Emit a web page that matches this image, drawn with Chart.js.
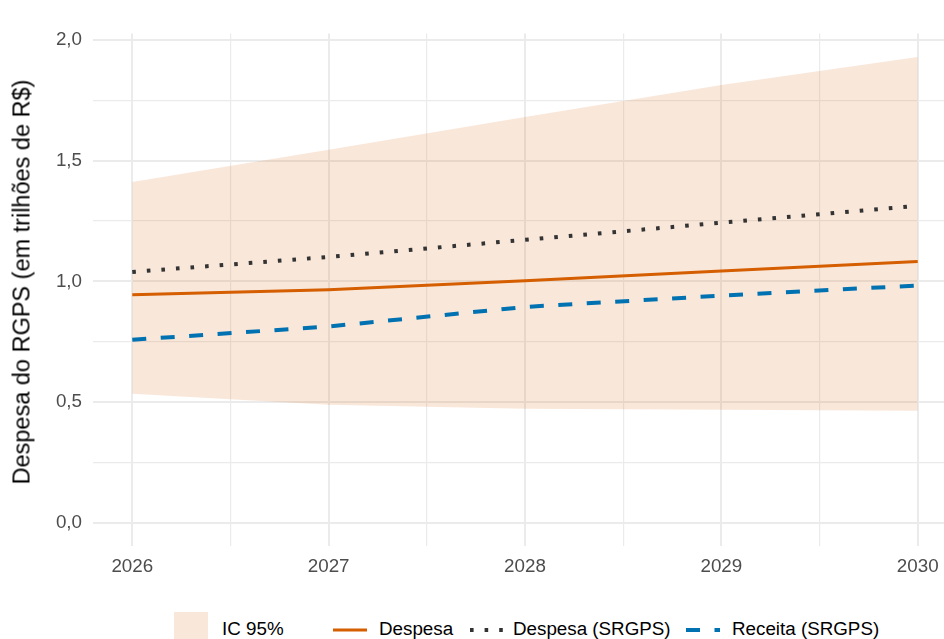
<!DOCTYPE html>
<html>
<head>
<meta charset="utf-8">
<script src="https://cdn.jsdelivr.net/npm/chart.js@4"></script>
<style>
  body { margin: 0; width: 944px; height: 639px; overflow: hidden; background: #fff;
         font-family: "Liberation Sans", Arial, sans-serif; position: relative; }
  #wrap { position: absolute; left: 0; top: 0; width: 960px; height: 600px; }
  .leg { position: absolute; top: 612px; height: 34px; display: flex; align-items: center;
         font-size: 18.8px; color: #000; white-space: nowrap; }
  .key { position: absolute; }
  #ytitle { position: absolute; left: 22px; top: 282px; font-size: 23.5px; color: #000;
            white-space: nowrap; transform: translate(-50%, -50%) rotate(-90deg); }
</style>
</head>
<body>
<div id="wrap"><canvas id="chart"></canvas></div>
<div id="ytitle">Despesa do RGPS (em trilhões de R$)</div>

<div class="key" style="left:174px;top:612px;width:34px;height:34px;background:rgba(213,94,0,0.15)"></div>
<div class="leg" style="left:222px">IC 95%</div>
<svg class="key" style="left:332px;top:620px" width="36" height="20">
  <line x1="1" y1="10" x2="35" y2="10" stroke="#D55E00" stroke-width="3"/>
</svg>
<div class="leg" style="left:379px">Despesa</div>
<svg class="key" style="left:468px;top:620px" width="36" height="20">
  <line x1="2" y1="10" x2="35" y2="10" stroke="#333333" stroke-width="4" stroke-dasharray="3.6 11"/>
</svg>
<div class="leg" style="left:513px">Despesa (SRGPS)</div>
<svg class="key" style="left:685px;top:620px" width="36" height="20">
  <line x1="1" y1="10" x2="35" y2="10" stroke="#0072B2" stroke-width="4" stroke-dasharray="14 14.5"/>
</svg>
<div class="leg" style="left:732px">Receita (SRGPS)</div>

<script>
// Projeção RGPS (trilhões de R$)
const years = [2026, 2027, 2028, 2029, 2030];
const despesa = [0.944, 0.965, 1.002, 1.043, 1.082];
const despesaSRGPS = [1.039, 1.101, 1.172, 1.243, 1.313];
const receitaSRGPS = [0.758, 0.813, 0.894, 0.941, 0.983];
const icSuperior = [1.412, 1.545, 1.681, 1.814, 1.930];
const icInferior = [0.534, 0.489, 0.472, 0.468, 0.464];

const yTicks = [0, 0.25, 0.5, 0.75, 1, 1.25, 1.5, 1.75, 2];
const xTicks = [2026, 2026.5, 2027, 2027.5, 2028, 2028.5, 2029, 2029.5, 2030];

const pts = arr => arr.map((v, i) => ({ x: years[i], y: v }));
const isMajor = (v, step) => Math.abs(v / step - Math.round(v / step)) < 1e-6;

const ctx = document.getElementById('chart').getContext('2d');

const chart = new Chart(ctx, {
  type: 'line',
  data: {
    datasets: [
      {
        label: 'Despesa (SRGPS)',
        data: pts(despesaSRGPS),
        borderColor: '#333333',
        borderWidth: 4,
        borderDash: [3.6, 11],
        pointRadius: 0,
        fill: false
      },
      {
        label: 'Receita (SRGPS)',
        data: pts(receitaSRGPS),
        borderColor: '#0072B2',
        borderWidth: 4,
        borderDash: [14, 14.5],
        pointRadius: 0,
        fill: false
      },
      {
        label: 'Despesa',
        data: pts(despesa),
        borderColor: '#D55E00',
        borderWidth: 3,
        pointRadius: 0,
        fill: false
      },
      {
        label: 'IC 95%',
        data: pts(icSuperior),
        borderWidth: 0,
        borderColor: 'rgba(0,0,0,0)',
        backgroundColor: 'rgba(213,94,0,0.15)',
        pointRadius: 0,
        fill: '+1'
      },
      {
        label: 'IC inferior',
        data: pts(icInferior),
        borderWidth: 0,
        borderColor: 'rgba(0,0,0,0)',
        pointRadius: 0,
        fill: false
      }
    ]
  },
  options: {
    responsive: true,
    maintainAspectRatio: false,
    animation: false,
    layout: { padding: { top: 33.6, right: 3, left: 0, bottom: 0 } },
    plugins: {
      legend: { display: false },
      tooltip: { enabled: false },
      filler: { drawTime: 'beforeDatasetsDraw' }
    },
    scales: {
      x: {
        type: 'linear',
        min: 2025.8,
        max: 2030.2,
        afterBuildTicks: s => { s.ticks = xTicks.map(v => ({ value: v })); },
        afterFit: s => { s.height = 54; },
        border: { display: false },
        grid: {
          drawTicks: false,
          color: '#EBEBEB',
          lineWidth: c => isMajor(c.tick.value, 1) ? 2 : 1.2
        },
        ticks: {
          padding: 10,
          color: '#4D4D4D',
          font: { family: 'Liberation Sans', size: 18.8 },
          maxRotation: 0,
          autoSkip: false,
          callback: v => isMajor(v, 1) ? String(v) : ''
        }
      },
      y: {
        min: -0.0965,
        max: 2.0265,
        afterBuildTicks: s => { s.ticks = yTicks.map(v => ({ value: v })); },
        afterFit: s => { s.width = 93; },
        border: { display: false },
        grid: {
          drawTicks: false,
          color: '#EBEBEB',
          lineWidth: c => isMajor(c.tick.value, 0.5) ? 2 : 1.2
        },
        ticks: {
          padding: 11,
          color: '#4D4D4D',
          font: { family: 'Liberation Sans', size: 18.8 },
          autoSkip: false,
          callback: v => isMajor(v, 0.5) ? v.toFixed(1).replace('.', ',') : ''
        }
      }
    }
  }
});
</script>
</body>
</html>
